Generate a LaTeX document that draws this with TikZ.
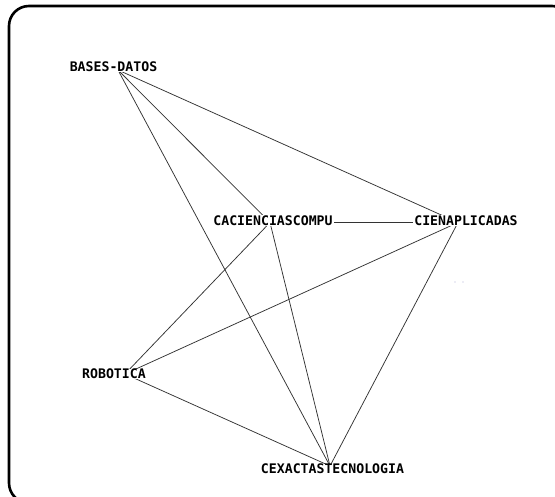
\documentclass[tikz,border=0pt]{standalone}
\usepackage{fontspec}
\newfontfamily\labfont{DejaVu Sans Mono}
\begin{document}
\begin{tikzpicture}[x=1pt,y=-1pt,
  lbl/.style={font=\labfont\bfseries\fontsize{13.2}{14}\selectfont, fill=white, inner xsep=1pt, inner ysep=0.5pt},
  edge/.style={line width=0.75pt, draw=black!80},
  frame/.style={line width=2.6pt, draw=black, rounded corners=20pt}]
\useasboundingbox (0,0) rectangle (555,497);
\begin{scope}
  \clip (0,0) rectangle (555,497);
  \draw[frame] (9,6) rectangle (572,503);
\end{scope}
% vertices
\coordinate (bd) at (118,70);
\coordinate (cc) at (270,222.5);
\coordinate (ca) at (458,222.5);
\coordinate (ro) at (125,374);
\coordinate (ce) at (330,466);
% edges
\draw[edge] (bd) -- (cc);
\draw[edge] (bd) -- (ca);
\draw[edge] (bd) -- (ce);
\draw[edge] (cc) -- (ca);
\draw[edge] (cc) -- (ro);
\draw[edge] (cc) -- (ce);
\draw[edge] (ca) -- (ro);
\draw[edge] (ca) -- (ce);
\draw[edge] (ro) -- (ce);
% labels
\node[lbl] (lbd) at (113.5,67) {BASES-DATOS};
\node[lbl] (lcc) at (273,220.5) {CACIENCIASCOMPU};
\node[lbl] (lca) at (466,220.5) {CIENAPLICADAS};
\node[lbl] (lro) at (114,374) {ROBOTICA};
\node[lbl] (lce) at (332.5,469) {CEXACTASTECNOLOGIA};
% specks
\fill[blue!30!gray!50] (455,282) circle (0.7pt);
\fill[blue!30!gray!50] (463,282) circle (0.7pt);
\end{tikzpicture}
\end{document}
